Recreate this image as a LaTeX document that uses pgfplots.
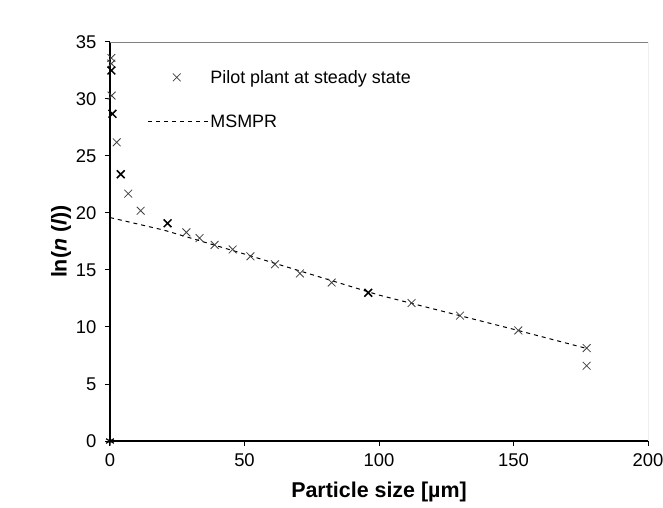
\documentclass[border=0pt]{standalone}
\usepackage{pgfplots}
\pgfplotsset{compat=1.18}
\usepackage{fontspec}
\setmainfont{Liberation Sans}
\begin{document}
\begin{tikzpicture}
\begin{axis}[
  scale only axis,
  width=538bp, height=399bp,
  xmin=0, xmax=200, ymin=0, ymax=35,
  xtick={0,50,100,150,200},
  ytick={0,5,10,15,20,25,30,35},
  axis x line*=bottom, axis y line*=left,
  axis line style={black, line width=1.3bp, -},
  tick align=outside,
  major tick length=5bp,
  tick style={black, line width=1bp},
  tick label style={font=\fontsize{18.5}{21}\selectfont},
  xticklabel style={yshift=-4bp},
  yticklabel style={xshift=-5bp},
  /pgf/number format/assume math mode=true,
  xlabel={\textbf{Particle size [µm]}},
  ylabel={\textbf{ln(\textit{n} (\textit{l}))}},
  label style={font=\fontsize{21.5}{24}\selectfont},
  xlabel style={yshift=-9bp},
  ylabel style={yshift=-2bp},
  legend style={at={(rel axis cs:0.07,0.935)}, anchor=north west, draw=none, fill=none,
    font=\fontsize{18}{21}\selectfont, row sep=26bp, inner sep=0pt,
    nodes={inner sep=2bp}},
  legend cell align=left,
]
\addplot[only marks, mark=x, mark size=5.5bp, line width=0.8bp, black!75,
  legend image code/.code={\draw[mark=x, mark size=5.5bp, line width=0.8bp, black!75] plot coordinates {(1.0cm,0)};}]
  coordinates {
  (0.5,33.6) (0.5,33.1) (0.6,30.3) (2.5,26.2) (6.8,21.7) (11.4,20.2)
  (28.4,18.3) (33.3,17.8) (38.9,17.2) (45.6,16.8) (52.2,16.2) (61.3,15.5)
  (70.6,14.7) (82.4,13.9) (112.1,12.1) (130.1,11.0) (151.8,9.7)
  (177.2,8.15) (177.2,6.6)
};
\addlegendentry{Pilot plant at steady state}
\addplot[only marks, mark=x, mark size=5.5bp, line width=1.5bp, black, forget plot]
  coordinates {
  (0.5,32.5) (0.9,28.7) (4,23.4) (21.4,19.1) (96,13.0)
};
\addplot[only marks, mark=asterisk, mark size=4.5bp, line width=1.2bp, black, forget plot]
  coordinates {(0,0)};
\addplot[black, line width=1bp, dash pattern=on 4bp off 4bp,
  legend image code/.code={\draw[black, line width=1bp, dash pattern=on 4bp off 4bp] (0,0) -- (2.1cm,0);}]
  coordinates {
  (0,19.6) (20,18.5) (50,16.4) (100,12.8) (150,9.8) (177.5,8.1)
};
\addlegendentry{MSMPR}
\draw[gray, line width=0.8bp] (rel axis cs:0,1) -- (rel axis cs:1,1) -- (rel axis cs:1,0);
\end{axis}
\pgfresetboundingbox
\path[use as bounding box] (-110bp,-67bp) rectangle (553bp,441bp);
\end{tikzpicture}
\end{document}
